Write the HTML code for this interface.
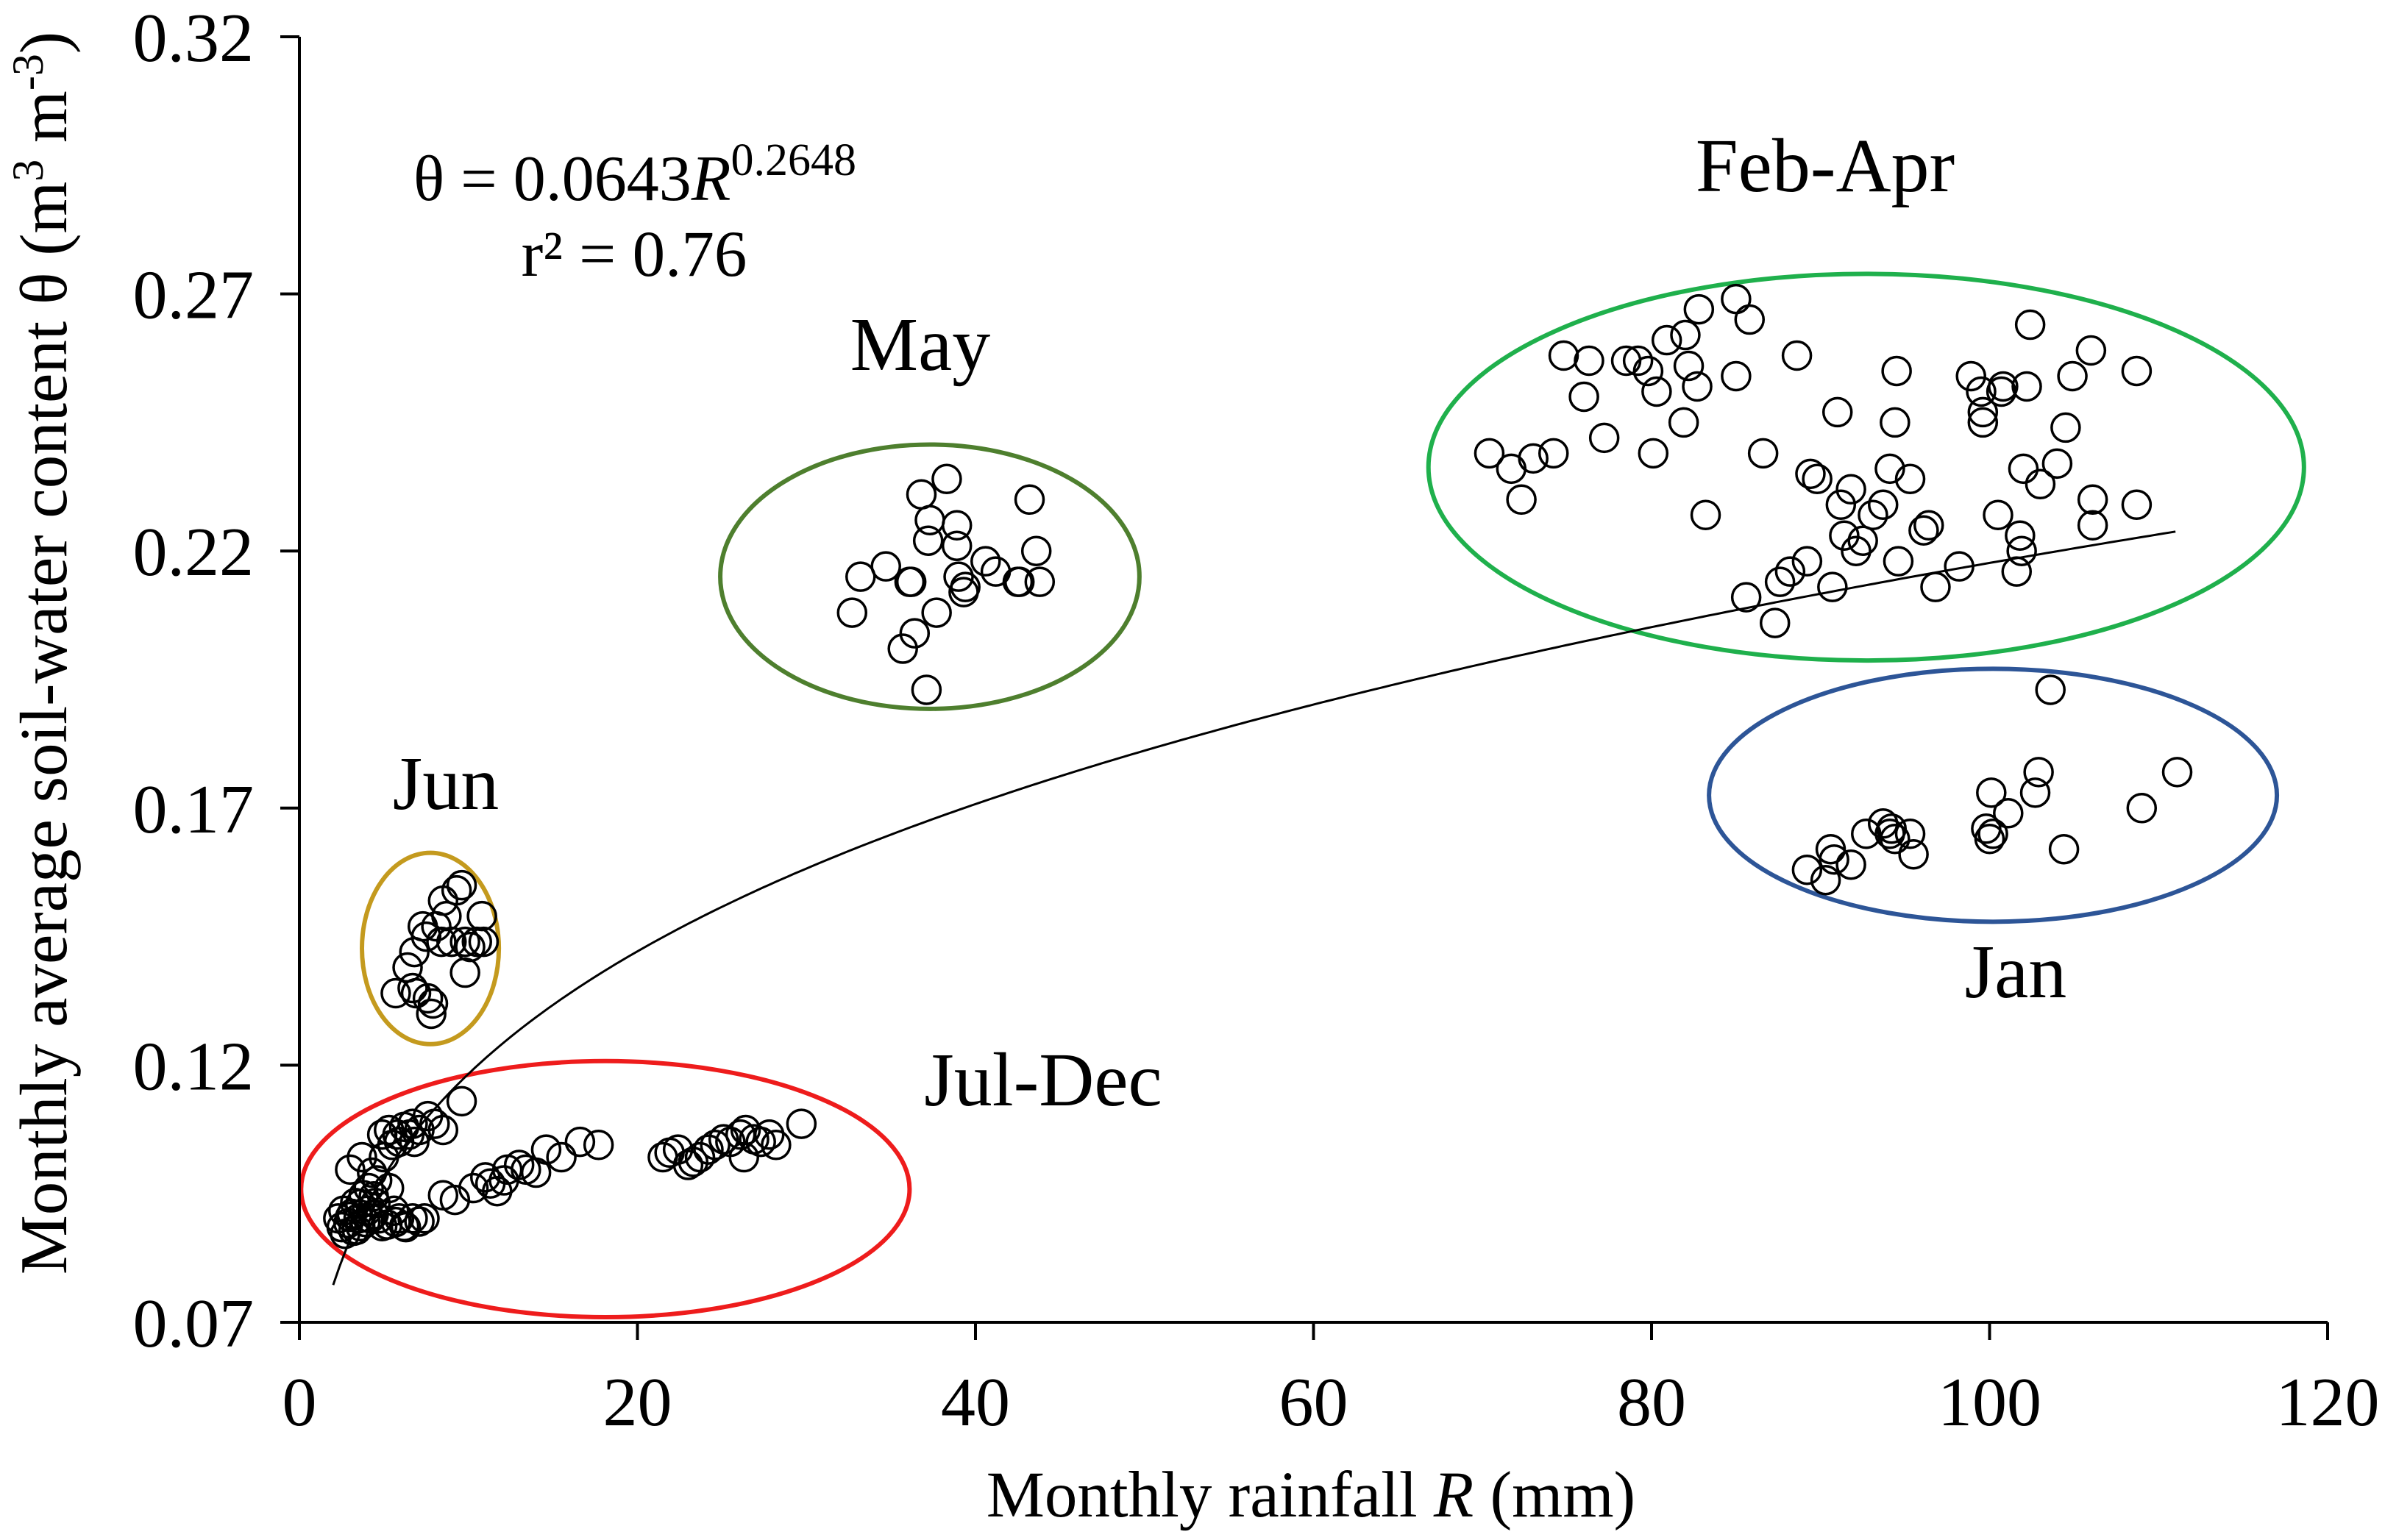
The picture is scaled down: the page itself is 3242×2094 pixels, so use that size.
<!DOCTYPE html>
<html><head><meta charset="utf-8">
<style>
html,body{margin:0;padding:0;background:#fff;}
svg{display:block;font-family:"Liberation Serif","DejaVu Serif",serif;}
</style></head>
<body>
<svg id="chart" width="3242" height="2094" viewBox="0 0 3242 2094" xmlns="http://www.w3.org/2000/svg">
<rect width="3242" height="2094" fill="#fff"/>
<g id="ellipses"></g>
<path id="fit-curve" fill="none" stroke="#000" stroke-width="3"/>
<g id="points"></g>
<g id="axes"></g>
<text x="562" y="272" font-size="88">θ = 0.0643<tspan font-style="italic">R</tspan><tspan font-size="62" dy="-34">0.2648</tspan></text>
<text x="862" y="375" font-size="89" text-anchor="middle">r² = 0.76</text>
<text x="2481" y="260" font-size="104" text-anchor="middle">Feb-Apr</text>
<text x="1251" y="503" font-size="104" text-anchor="middle">May</text>
<text x="606" y="1100" font-size="104" text-anchor="middle">Jun</text>
<text x="1418" y="1503" font-size="104" text-anchor="middle">Jul-Dec</text>
<text x="2740" y="1356" font-size="104" text-anchor="middle">Jan</text>
<text x="1782" y="2062" font-size="89" text-anchor="middle">Monthly rainfall <tspan font-style="italic">R</tspan> (mm)</text>
<text transform="translate(90,888) rotate(-90)" font-size="91" text-anchor="middle">Monthly average soil-water content θ (m<tspan font-size="60" dy="-32">3</tspan><tspan dy="32"> m</tspan><tspan font-size="60" dy="-32">-3</tspan><tspan dy="32">)</tspan></text>
</svg>
<script>
// ---- data ----
const xTicks = [0,20,40,60,80,100,120];
const yTicks = [0.07,0.12,0.17,0.22,0.27,0.32];
const yTickLabels = ["0.07","0.12","0.17","0.22","0.27","0.32"];
const fitA = 0.0643, fitB = 0.2648, fitMin = 2, fitMax = 111;

const febAprR = [70.4,71.7,72.3,73.0,74.2,74.8,76.0,76.3,77.2,78.5,79.2,79.8,80.1,80.3,80.9,81.9,82.0,82.2,82.8,82.7,83.2,85.0,85.0,85.8,85.6,86.6,87.3,87.6,88.2,88.6,89.2,89.4,89.8,90.7,91.0,91.2,91.4,91.8,92.1,92.5,93.1,93.7,94.1,94.4,94.6,94.5,95.3,96.1,96.4,96.8,98.2,98.9,99.5,99.6,99.6,100.5,100.7,100.8,101.6,101.8,101.9,102.0,102.2,102.4,103.0,104.0,104.5,104.9,106.0,106.1,106.1,108.7,108.7];
const febAprT = [.239,.236,.230,.238,.239,.258,.250,.257,.242,.257,.257,.255,.239,.251,.261,.245,.262,.256,.267,.252,.227,.269,.254,.265,.211,.239,.206,.214,.216,.258,.218,.235,.234,.213,.247,.229,.223,.232,.220,.222,.227,.229,.236,.245,.218,.255,.234,.224,.225,.213,.217,.254,.251,.247,.245,.227,.251,.252,.216,.223,.220,.236,.252,.264,.233,.237,.244,.254,.259,.230,.225,.255,.229];

const janR = [89.2,90.3,90.6,90.8,91.8,92.7,93.7,94.1,94.4,95.3,95.5,94.2,99.8,100.0,100.2,101.1,102.7,102.9,103.6,104.4,109.0,111.1,100.1];
const janT = [.158,.156,.162,.160,.159,.165,.167,.165,.164,.165,.161,.166,.166,.164,.165,.169,.173,.177,.193,.162,.170,.177,.173];

const mayR = [32.7,33.2,34.7,36.1,36.2,35.7,36.4,36.8,37.2,37.3,37.1,37.7,38.3,38.9,38.9,39.0,39.3,39.4,40.6,41.2,42.5,42.6,43.2,43.6,43.8];
const mayT = [.208,.215,.217,.214,.214,.201,.204,.231,.222,.226,.193,.208,.234,.225,.221,.215,.212,.213,.218,.216,.214,.214,.230,.220,.214];

const junR = [5.7,6.4,6.8,6.9,7.3,7.5,7.6,7.8,7.9,8.1,8.5,8.7,9.0,9.3,9.6,9.8,9.8,10.1,10.5,10.8,10.9,6.7,8.4];
const junT = [.134,.139,.142,.134,.147,.145,.133,.130,.132,.147,.152,.149,.144,.154,.155,.144,.138,.143,.144,.149,.144,.135,.144];

const julDecR = [2.3,2.6,2.9,3.1,3.3,3.5,3.8,4.0,4.1,4.3,4.5,4.7,4.9,5.0,5.3,5.5,5.8,5.9,6.2,6.5,6.7,6.8,7.1,7.6,8.0,8.5,9.6,3.0,3.7,4.6,5.3,5.6,5.9,6.2,6.7,7.1,7.4,4.2,3.2,2.7,3.6,4.9,
 8.5,9.2,10.3,11.0,11.3,11.7,12.1,12.3,13.0,13.4,14.0,14.6,15.5,16.6,17.7,21.5,21.9,22.4,23.3,23.7,24.2,24.6,25.1,25.5,26.1,26.4,26.9,27.3,27.8,28.2,29.7,26.3,23.0,
 2.5,3.0,3.4,3.9,4.4,5.2,5.7,6.3,3.6,4.4];
const julDecT = [.0902,.0917,.0893,.0911,.0932,.0902,.0947,.0917,.0961,.0991,.0932,.0902,.1065,.1021,.1074,.1045,.1065,.1051,.1080,.1065,.1086,.1051,.1074,.1101,.1086,.1074,.1130,.0997,.1021,.0976,.0961,.0917,.0902,.0887,.0902,.0896,.0902,.0902,.0878,.0872,.0887,.0887,
 .0947,.0938,.0961,.0982,.0970,.0955,.0976,.0997,.1006,.0997,.0991,.1036,.1021,.1051,.1045,.1021,.1030,.1036,.1012,.1021,.1036,.1045,.1056,.1051,.1065,.1074,.1056,.1051,.1065,.1045,.1086,.1021,.1006,
 .0885,.0905,.0880,.0895,.0910,.0890,.0895,.0885,.0930,.0945];

// ellipse annotations (data units)
const ellipseNames = ["jun-ellipse","jul-dec-ellipse","may-ellipse","feb-apr-ellipse","jan-ellipse"];
const ellipseColors = ["#C49A1E","#EE1C1C","#4E7F2E","#1FB04C","#2D5597"];
const ellipseCR = [7.75,18.1,37.3,92.7,100.2];
const ellipseCT = [.1427,.0959,.2150,.2363,.1725];
const ellipseRR = [4.05,18.0,12.4,25.9,16.8];
const ellipseRT = [.0186,.0249,.0257,.0376,.0246];

// ---- scales ----
const X0 = 407, XPER = 22.975, Y0 = 1798, YPER = 6992;
const sx = r => X0 + r * XPER;
const sy = t => Y0 - (t - 0.07) * YPER;
const NS = "http://www.w3.org/2000/svg";
function mk(tag, parent){ const e = document.createElementNS(NS, tag); parent.appendChild(e); return e; }

const eg = document.getElementById('ellipses');
for (let i = 0; i < ellipseNames.length; i++) {
  const e = mk('ellipse', eg);
  
  
  e.setAttribute('cx', sx(ellipseCR[i])); e.setAttribute('cy', sy(ellipseCT[i]));
  e.setAttribute('rx', ellipseRR[i] * XPER); e.setAttribute('ry', ellipseRT[i] * YPER);
  e.setAttribute('fill', 'none'); e.setAttribute('stroke', ellipseColors[i]); e.setAttribute('stroke-width', '6');
}

let d = '';
for (let i = 0; i <= 300; i++) {
  const r = fitMin + (fitMax - fitMin) * i / 300;
  d += (i ? 'L' : 'M') + sx(r).toFixed(1) + ',' + sy(fitA * Math.pow(r, fitB)).toFixed(1);
}
document.getElementById('fit-curve').setAttribute('d', d);

const pg = document.getElementById('points');
const groups = [["feb-apr-point",febAprR,febAprT],["jan-point",janR,janT],["may-point",mayR,mayT],["jun-point",junR,junT],["jul-dec-point",julDecR,julDecT]];
for (const [name, R, T] of groups) {
  for (let i = 0; i < R.length; i++) {
    const c = mk('circle', pg);
    
    
    c.setAttribute('cx', sx(R[i])); c.setAttribute('cy', sy(T[i])); c.setAttribute('r', 19);
    c.setAttribute('fill', 'none'); c.setAttribute('stroke', '#000'); c.setAttribute('stroke-width', '3.5');
  }
}

const ag = document.getElementById('axes');
const yl = mk('line', ag);


yl.setAttribute('x1', X0); yl.setAttribute('x2', X0); yl.setAttribute('y1', sy(0.32)); yl.setAttribute('y2', Y0);
yl.setAttribute('stroke', '#000'); yl.setAttribute('stroke-width', '4');
const xl = mk('line', ag);


xl.setAttribute('x1', X0 - 26); xl.setAttribute('x2', sx(120)); xl.setAttribute('y1', Y0); xl.setAttribute('y2', Y0);
xl.setAttribute('stroke', '#000'); xl.setAttribute('stroke-width', '4');
for (let i = 0; i < yTicks.length; i++) {
  const y = sy(yTicks[i]);
  const t = mk('line', ag);
  
  
  t.setAttribute('x1', X0 - 26); t.setAttribute('x2', X0); t.setAttribute('y1', y); t.setAttribute('y2', y);
  t.setAttribute('stroke', '#000'); t.setAttribute('stroke-width', '4');
  const l = mk('text', ag);
  
  
  l.setAttribute('x', 345); l.setAttribute('y', y + 33); l.setAttribute('font-size', '94'); l.setAttribute('text-anchor', 'end');
  l.textContent = yTickLabels[i];
}
for (let i = 0; i < xTicks.length; i++) {
  const x = sx(xTicks[i]);
  const t = mk('line', ag);
  
  
  t.setAttribute('x1', x); t.setAttribute('x2', x); t.setAttribute('y1', Y0); t.setAttribute('y2', Y0 + 24);
  t.setAttribute('stroke', '#000'); t.setAttribute('stroke-width', '4');
  const l = mk('text', ag);
  
  
  l.setAttribute('x', x); l.setAttribute('y', 1938); l.setAttribute('font-size', '94'); l.setAttribute('text-anchor', 'middle');
  l.textContent = String(xTicks[i]);
}
</script>
</body></html>
